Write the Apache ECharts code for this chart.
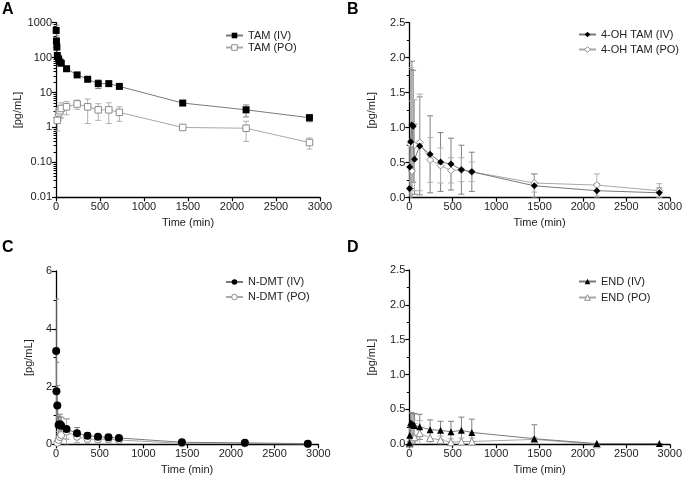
<!DOCTYPE html>
<html><head><meta charset="utf-8">
<script src="https://cdn.jsdelivr.net/npm/echarts@6/dist/echarts.min.js"></script>
<style>html,body{margin:0;padding:0;background:#fff}#c{width:685px;height:479px}</style>
</head><body><div id="c"></div>
<script>
// ---- data ----
const time = [2, 5, 10, 15, 30, 45, 60, 120, 240, 360, 480, 600, 720, 1440, 2160, 2880];
// Panel A: TAM
const tamIV    = [600, 300, 200, 115, 92, 75, 69, 48, 32, 24, 18, 18, 15, 5, 3.2, 1.9];
const tamIVsd  = [250, 120, 60, 25, 15, 10, 8, 6, 4, 3, 5, 2, 2, 0.6, 1.2, 0.45];
const tamPO    = [null, null, null, 1.6, 2.6, 3.0, 3.5, 3.9, 4.7, 3.9, 3.2, 3.2, 2.7, 1.0, 0.95, 0.37];
const tamPOsd  = [null, null, null, 0.8, 1.0, 1.2, 1.6, 1.6, 1.4, 2.6, 1.6, 1.9, 1.2, 0.12, 0.55, 0.13];
// Panel B: 4-OH TAM
const ohIV     = [0.13, 0.44, null, 0.80, 1.04, 1.02, 0.55, 0.74, 0.62, 0.51, 0.48, 0.40, 0.37, 0.17, 0.10, 0.07];
const ohIVsd   = [0.10, 0.40, null, 1.03, 0.91, 0.80, 0.50, 0.70, 0.55, 0.42, 0.37, 0.35, 0.28, 0.17, 0.10, 0.07];
const ohPO     = [null, null, null, 0.76, 0.38, null, 0.75, 0.79, 0.54, 0.46, 0.39, 0.40, 0.37, 0.21, 0.18, 0.10];
const ohPOsd   = [null, null, null, 1.10, 1.00, null, 0.65, 0.69, 0.32, 0.25, 0.18, 0.17, 0.14, 0.13, 0.16, 0.10];
// Panel C: N-DMT
const ndIV     = [3.23, 1.84, null, 1.34, 0.67, 0.69, 0.64, 0.53, 0.38, 0.30, 0.26, 0.24, 0.22, 0.07, 0.05, 0.02];
const ndIVsd   = [1.80, 1.00, null, 0.70, 0.30, 0.35, 0.30, 0.35, 0.20, 0.10, 0.08, 0.10, 0.08, 0.03, 0.03, 0.01];
const ndPO     = [null, null, null, 0.05, 0.15, 0.25, 0.32, 0.44, 0.26, 0.18, 0.17, 0.18, 0.15, 0.03, 0.03, 0.01];
const ndPOsd   = [null, null, null, 0.10, 0.30, 0.40, 0.45, 0.45, 0.20, 0.15, 0.12, 0.12, 0.10, 0.02, 0.02, 0.01];
// Panel D: END
const endIV    = [0.02, 0.13, null, 0.31, 0.30, 0.28, 0.27, 0.25, 0.21, 0.20, 0.18, 0.20, 0.17, 0.08, 0.01, 0.01];
const endIVsd  = [0.02, 0.10, null, 0.14, 0.15, 0.16, 0.17, 0.18, 0.14, 0.13, 0.15, 0.19, 0.19, 0.20, 0.00, 0.00];
const endPO    = [null, 0.01, null, 0.07, 0.07, 0.10, 0.10, 0.16, 0.09, 0.06, 0.03, 0.04, 0.04, 0.07, 0.00, null];
const endPOsd  = [null, 0.02, null, 0.10, 0.15, 0.25, 0.20, 0.18, 0.08, 0.06, 0.05, 0.05, 0.05, 0.03, 0.00, null];

const FONT = 'Arial, "Liberation Sans", sans-serif';
const TXT = '#222';
const IVC = '#000', POC = '#8c8c8c', IVLINE = '#7a7a7a', POLINE = '#a8a8a8', IVERR = '#808080', POERR = '#b0b0b0';

function pts(v){ return time.map((t,i)=> v[i]==null?null:[t, v[i]]).filter(d=>d); }
function errData(v, sd, isLog){
  return time.map((t,i)=>{
    if (v[i]==null || sd[i]==null) return null;
    let lo = v[i]-sd[i]; if (isLog && lo <= 0) lo = v[i]*0.05;
    return [t, lo, v[i]+sd[i]];
  }).filter(d=>d);
}
function errSeries(idx, v, sd, color, isLog){
  return {
    type:'custom', xAxisIndex: idx, yAxisIndex: idx, clip: true, silent: true, z: 1,
    data: errData(v, sd, isLog), encode:{x:0, y:[1,2]},
    renderItem: (params, api) => {
      const x = api.value(0), lo = api.value(1), hi = api.value(2);
      const a = api.coord([x, hi]), b = api.coord([x, lo]);
      const w = 3, st = {stroke: color, lineWidth: 1};
      return {type:'group', children:[
        {type:'line', shape:{x1:a[0], y1:a[1], x2:b[0], y2:b[1]}, style: st},
        {type:'line', shape:{x1:a[0]-w, y1:a[1], x2:a[0]+w, y2:a[1]}, style: st},
        {type:'line', shape:{x1:b[0]-w, y1:b[1], x2:b[0]+w, y2:b[1]}, style: st}
      ]};
    }
  };
}
function lineSeries(idx, name, v, symbol, size, isIV){
  return {
    type:'line', name, xAxisIndex: idx, yAxisIndex: idx, data: pts(v),
    symbol, symbolSize: size, z: isIV ? 4 : 3,
    lineStyle:{color: isIV ? IVLINE : POLINE, width: 1},
    itemStyle: isIV ? {color: IVC, borderWidth: 0}
                    : {color: '#fff', borderColor: POC, borderWidth: 1},
    emphasis:{disabled:true}, animation:false
  };
}
const grids = [
  {left:56, top:22.7, width:264, height:174.6},
  {left:409.3, top:22.7, width:262, height:175},
  {left:56, top:271, width:262.3, height:173.3},
  {left:409.3, top:270, width:262.4, height:174.3}
];
const axisLine = {show:true, lineStyle:{color:'#000', width:1.3}};
const axisTick = {show:true, inside:false, length:4, lineStyle:{color:'#000', width:1.2}};
const labelBase = {color:TXT, fontSize:11, fontFamily:FONT};
const xAxes = grids.map((g,i)=>({
  type:'value', gridIndex:i, min:0, max:3000, interval:500,
  name:'Time (min)', nameLocation:'middle', nameGap:20,
  nameTextStyle:{color:TXT, fontSize:11, fontFamily:FONT},
  axisLine, axisTick, axisLabel:{...labelBase, margin:4, formatter:(v)=>String(v)}, splitLine:{show:false}
}));
const yName = {name:'[pg/mL]', nameLocation:'middle', nameGap:32,
  nameTextStyle:{color:TXT, fontSize:11, fontFamily:FONT}};
const minorTick = (n)=>({show:true, splitNumber:n, length:2.5, lineStyle:{color:'#000', width:1}});
const yAxes = [
  {type:'log', gridIndex:0, logBase:10, min:0.01, max:1000, ...yName,
   axisLine, axisTick, minorTick:minorTick(9), splitLine:{show:false}, minorSplitLine:{show:false},
   axisLabel:{...labelBase, margin:4, formatter:(v)=>{
     if (Math.abs(v-0.01)<1e-9) return '0.01';
     if (Math.abs(v-0.1)<1e-9) return '0.10';
     return String(Math.round(v));
   }}},
  {type:'value', gridIndex:1, min:0, max:2.5, interval:0.5, ...yName,
   axisLine, axisTick, minorTick:minorTick(2), splitLine:{show:false}, minorSplitLine:{show:false},
   axisLabel:{...labelBase, margin:4, formatter:(v)=>v.toFixed(1)}},
  {type:'value', gridIndex:2, min:0, max:6, interval:2, ...yName, nameGap:22,
   axisLine, axisTick, minorTick:minorTick(2), splitLine:{show:false}, minorSplitLine:{show:false},
   axisLabel:{...labelBase, margin:4}},
  {type:'value', gridIndex:3, min:0, max:2.5, interval:0.5, ...yName,
   axisLine, axisTick, minorTick:minorTick(2), splitLine:{show:false}, minorSplitLine:{show:false},
   axisLabel:{...labelBase, margin:4, formatter:(v)=>v.toFixed(1)}}
];
const series = [
  errSeries(0, tamIV, tamIVsd, IVERR, true), errSeries(0, tamPO, tamPOsd, POERR, true),
  lineSeries(0, 'TAM (IV)', tamIV, 'rect', 7, true), lineSeries(0, 'TAM (PO)', tamPO, 'rect', 6.5, false),
  errSeries(1, ohIV, ohIVsd, IVERR, false), errSeries(1, ohPO, ohPOsd, POERR, false),
  lineSeries(1, '4-OH TAM (IV)', ohIV, 'diamond', 7, true), lineSeries(1, '4-OH TAM (PO)', ohPO, 'diamond', 7, false),
  errSeries(2, ndIV, ndIVsd, IVERR, false), errSeries(2, ndPO, ndPOsd, POERR, false),
  lineSeries(2, 'N-DMT (IV)', ndIV, 'circle', 8, true), lineSeries(2, 'N-DMT (PO)', ndPO, 'circle', 7, false),
  errSeries(3, endIV, endIVsd, IVERR, false), errSeries(3, endPO, endPOsd, POERR, false),
  lineSeries(3, 'END (IV)', endIV, 'triangle', 7, true), lineSeries(3, 'END (PO)', endPO, 'triangle', 7, false)
];
function legend(left, top, gap, names){
  return {orient:'vertical', left, top, itemGap:gap, itemWidth:17, itemHeight:7,
    data:names, selectedMode:false, itemStyle:{borderWidth:1},
    textStyle:{color:TXT, fontSize:11, fontFamily:FONT}};
}
const letters = [['A',2,2],['B',347,2],['C',2,240],['D',347,240]];
const option = {
  animation:false,
  grid: grids,
  xAxis: xAxes, yAxis: yAxes, series,
  legend: [
    legend(220, 25, 1, ['TAM (IV)','TAM (PO)']),
    legend(573, 24, 4, ['4-OH TAM (IV)','4-OH TAM (PO)']),
    legend(220, 271.5, 4, ['N-DMT (IV)','N-DMT (PO)']),
    legend(573, 271, 5, ['END (IV)','END (PO)'])
  ],
  graphic: letters.map(([t,x,y])=>({type:'text', left:x, top:y,
    style:{text:t, fill:'#000', font:'bold 16px ' + FONT}}))
};
const chart = echarts.init(document.getElementById('c'), null, {renderer:'canvas'});
chart.setOption(option);
</script></body></html>
